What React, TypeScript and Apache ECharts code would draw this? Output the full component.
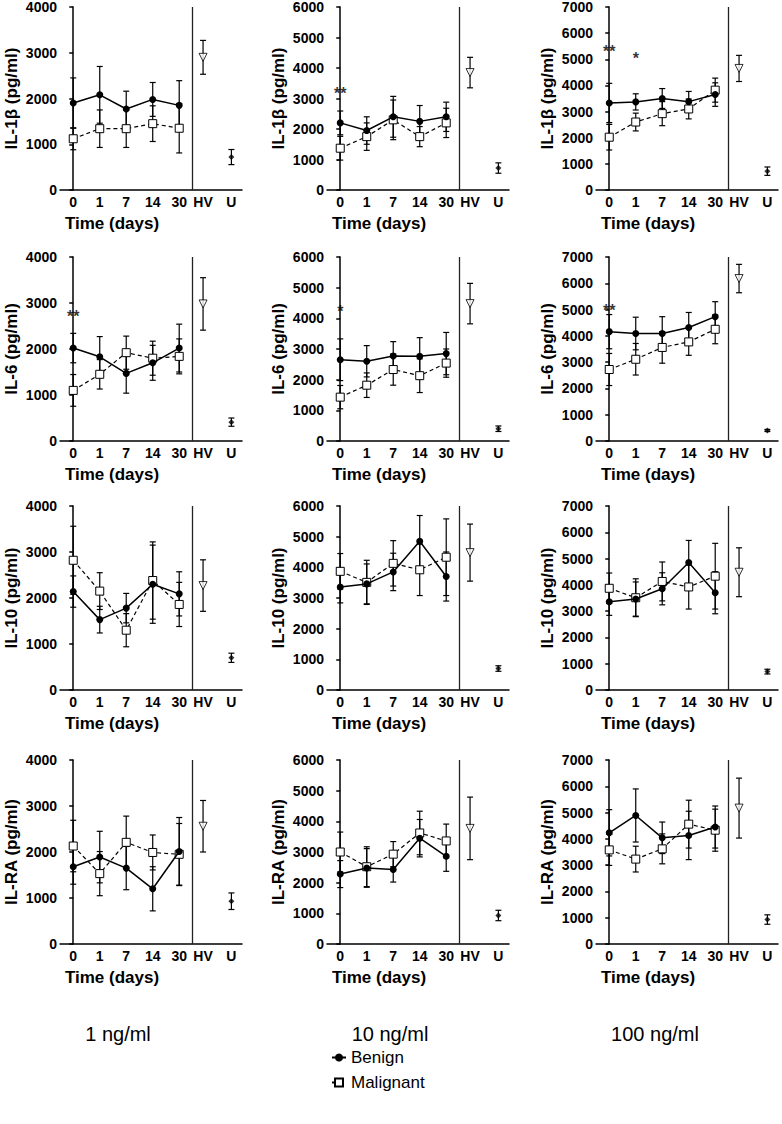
import React, { useEffect, useRef } from "react";
import * as echarts from "echarts";

// ---------- DATA ----------
const dayLabels = ["0", "1", "7", "14", "30"];
const controlLabels = ["HV", "U"];
const cytokines = ["IL-1β", "IL-6", "IL-10", "IL-RA"];
const doses = ["1 ng/ml", "10 ng/ml", "100 ng/ml"];
const yMaxByDose = [4000, 6000, 7000];

// panels in row-major order: (cytokine row) x (dose column)
const benignMean = [
  [1900, 2080, 1770, 1980, 1850],
  [2200, 1950, 2400, 2250, 2400],
  [3330, 3370, 3500, 3380, 3650],
  [2020, 1830, 1470, 1700, 2020],
  [2650, 2600, 2770, 2760, 2850],
  [4160, 4090, 4090, 4320, 4730],
  [2140, 1530, 1780, 2300, 2090],
  [3360, 3460, 3850, 4850, 3700],
  [3360, 3460, 3850, 4850, 3700],
  [1680, 1890, 1650, 1200, 2010],
  [2280, 2480, 2430, 3450, 2860],
  [4230, 4890, 4040, 4130, 4450],
];
const benignErr = [
  [550, 620, 390, 370, 540],
  [390, 450, 670, 520, 480],
  [750, 310, 380, 390, 450],
  [320, 440, 430, 380, 520],
  [680, 510, 470, 610, 690],
  [650, 620, 640, 570, 570],
  [340, 290, 320, 850, 480],
  [520, 650, 610, 840, 800],
  [520, 650, 610, 840, 800],
  [380, 560, 470, 480, 740],
  [440, 630, 410, 610, 490],
  [880, 1010, 600, 920, 800],
];
const malignantMean = [
  [1120, 1340, 1340, 1450, 1350],
  [1370, 1750, 2300, 1750, 2200],
  [2020, 2600, 2920, 3100, 3820],
  [1100, 1450, 1920, 1800, 1840],
  [1430, 1820, 2330, 2130, 2540],
  [2720, 3110, 3560, 3770, 4250],
  [2820, 2150, 1300, 2380, 1860],
  [3870, 3510, 4130, 3920, 4330],
  [3870, 3510, 4130, 3920, 4330],
  [2130, 1530, 2210, 1990, 1950],
  [3000, 2520, 2930, 3620, 3360],
  [3580, 3230, 3620, 4560, 4330],
];
const malignantErr = [
  [240, 410, 410, 390, 540],
  [390, 450, 650, 330, 480],
  [490, 340, 460, 380, 460],
  [345, 320, 360, 370, 380],
  [380, 400, 510, 550, 460],
  [610, 600, 600, 510, 550],
  [740, 400, 360, 840, 480],
  [580, 720, 740, 840, 1250],
  [580, 720, 740, 840, 1250],
  [560, 480, 570, 380, 670],
  [650, 650, 410, 710, 550],
  [590, 490, 570, 910, 800],
];
const hvMean = [2900, 3850, 4650, 2980, 4480, 6180, 2270, 4480, 4480, 2560, 3770, 5170];
const hvErr = [370, 500, 500, 570, 660, 540, 560, 930, 930, 560, 1020, 1140];
const uMean = [720, 720, 720, 410, 400, 400, 700, 700, 700, 930, 930, 930];
const uErr = [165, 170, 160, 90, 90, 40, 100, 90, 90, 180, 170, 180];

const significance = [
  { panel: 1, day: 0, value: 3150, text: "**" },
  { panel: 2, day: 0, value: 5280, text: "**" },
  { panel: 2, day: 1, value: 5030, text: "*" },
  { panel: 3, day: 0, value: 2700, text: "**" },
  { panel: 4, day: 0, value: 4230, text: "*" },
  { panel: 5, day: 0, value: 4980, text: "**" },
];

// ---------- LAYOUT ----------
const colLeft = [60, 327, 596];
const rowTop = [6, 257, 506, 760];
const gridW = 182;
const gridH = 184;
const xMin = -0.5;
const xMax = 6.37;
const dayX = [0, 1, 2, 3, 4];
const hvX = 4.9;
const uX = 5.97;
const sepX = 4.48;
const xSlots = [...dayX, hvX, uX];
const xSlotLabels = [...dayLabels, ...controlLabels];
const FONT = "Arial, 'Liberation Sans', Helvetica, sans-serif";

function errorBarSeries(i: number, name: string, data: number[][], z: number) {
  return {
    type: "custom",
    name,
    xAxisIndex: i,
    yAxisIndex: i,
    z,
    silent: true,
    encode: { x: 0, y: [1, 2] },
    data,
    renderItem: (_p: any, api: any) => {
      const x = api.value(0);
      const lo = api.coord([x, api.value(1)]);
      const hi = api.coord([x, api.value(2)]);
      const w = 3;
      const st = { stroke: "#000", lineWidth: 1.2 };
      return {
        type: "group",
        children: [
          { type: "line", shape: { x1: lo[0], y1: lo[1], x2: hi[0], y2: hi[1] }, style: st },
          { type: "line", shape: { x1: lo[0] - w, y1: lo[1], x2: lo[0] + w, y2: lo[1] }, style: st },
          { type: "line", shape: { x1: hi[0] - w, y1: hi[1], x2: hi[0] + w, y2: hi[1] }, style: st },
        ],
      };
    },
  };
}

function buildOption() {
  const grid: any[] = [];
  const xAxis: any[] = [];
  const yAxis: any[] = [];
  const series: any[] = [];
  const graphic: any[] = [];

  for (let r = 0; r < 4; r++) {
    for (let c = 0; c < 3; c++) {
      const i = r * 3 + c;
      const left = colLeft[c];
      const top = rowTop[r];
      grid.push({ left, top, width: gridW, height: gridH, containLabel: false });
      xAxis.push({
        type: "value",
        gridIndex: i,
        min: xMin,
        max: xMax,
        splitLine: { show: false },
        axisLine: { show: true, onZero: false, lineStyle: { color: "#000", width: 1.5 } },
        axisTick: { show: false },
        axisLabel: {
          customValues: xSlots,
          formatter: (v: number) => {
            const k = xSlots.findIndex((p) => Math.abs(p - v) < 1e-6);
            return k >= 0 ? xSlotLabels[k] : "";
          },
          color: "#000",
          fontWeight: "bold",
          fontSize: 14,
          fontFamily: FONT,
          margin: 5,
        },
      });
      yAxis.push({
        type: "value",
        gridIndex: i,
        min: 0,
        max: yMaxByDose[c],
        interval: 1000,
        splitLine: { show: false },
        axisLine: { show: true, lineStyle: { color: "#000", width: 1.5 } },
        axisTick: { show: true, length: 4, lineStyle: { color: "#000", width: 1.5 } },
        axisLabel: {
          color: "#000",
          fontWeight: "bold",
          fontSize: 14,
          fontFamily: FONT,
          margin: 3,
          formatter: (v: number) => String(v),
        },
        name: cytokines[r] + " (pg/ml)",
        nameLocation: "middle",
        nameGap: 40,
        nameTextStyle: { color: "#000", fontWeight: "bold", fontSize: 17, fontFamily: FONT },
      });

      const bm = benignMean[i];
      const be = benignErr[i];
      const mm = malignantMean[i];
      const me = malignantErr[i];

      series.push(
        errorBarSeries(i, "err-b-" + i, dayX.map((x, k) => [x, bm[k] - be[k], bm[k] + be[k]]), 2)
      );
      series.push(
        errorBarSeries(i, "err-m-" + i, dayX.map((x, k) => [x, mm[k] - me[k], mm[k] + me[k]]), 2)
      );
      series.push(
        errorBarSeries(
          i,
          "err-c-" + i,
          [
            [hvX, hvMean[i] - hvErr[i], hvMean[i] + hvErr[i]],
            [uX, uMean[i] - uErr[i], uMean[i] + uErr[i]],
          ],
          2
        )
      );
      series.push({
        type: "line",
        name: "Malignant",
        xAxisIndex: i,
        yAxisIndex: i,
        z: 3,
        data: dayX.map((x, k) => [x, mm[k]]),
        symbol: "rect",
        symbolSize: 8,
        showSymbol: true,
        lineStyle: { color: "#000", width: 1.2, type: [4, 3] },
        itemStyle: { color: "#fff", borderColor: "#000", borderWidth: 1 },
      });
      series.push({
        type: "line",
        name: "Benign",
        xAxisIndex: i,
        yAxisIndex: i,
        z: 4,
        data: dayX.map((x, k) => [x, bm[k]]),
        symbol: "circle",
        symbolSize: 7,
        showSymbol: true,
        lineStyle: { color: "#000", width: 1.5 },
        itemStyle: { color: "#000", borderColor: "#000", borderWidth: 0 },
      });
      series.push({
        type: "scatter",
        name: "HV-" + i,
        xAxisIndex: i,
        yAxisIndex: i,
        z: 4,
        data: [[hvX, hvMean[i]]],
        symbol: "triangle",
        symbolRotate: 180,
        symbolSize: 8,
        itemStyle: { color: "#fff", borderColor: "#000", borderWidth: 1 },
        markLine: {
          silent: true,
          symbol: ["none", "none"],
          label: { show: false },
          lineStyle: { color: "#222", width: 1.3, type: "solid" },
          data: [{ xAxis: sepX }],
        },
      });
      series.push({
        type: "scatter",
        name: "U-" + i,
        xAxisIndex: i,
        yAxisIndex: i,
        z: 4,
        data: [[uX, uMean[i]]],
        symbol: "diamond",
        symbolSize: 6,
        itemStyle: { color: "#000" },
      });
      const sig = significance.filter((s) => s.panel === i);
      if (sig.length) {
        series.push({
          type: "scatter",
          name: "sig-" + i,
          xAxisIndex: i,
          yAxisIndex: i,
          z: 5,
          symbolSize: 0,
          silent: true,
          itemStyle: { color: "#000" },
          data: sig.map((s) => ({ value: [dayX[s.day], s.value], name: s.text })),
          label: {
            show: true,
            position: "inside",
            formatter: "{b}",
            color: "#000",
            textBorderWidth: 0,
            fontSize: 16,
            fontWeight: "bold",
            fontFamily: FONT,
          },
        });
      }
      graphic.push({
        type: "text",
        x: left + 52,
        y: top + gridH + 33,
        style: {
          text: "Time (days)",
          fill: "#000",
          font: "bold 17px " + FONT,
          align: "center",
          verticalAlign: "middle",
        },
      });
    }
  }

  const doseCenters = [118, 390, 655];
  doses.forEach((d, k) => {
    graphic.push({
      type: "text",
      x: doseCenters[k],
      y: 1034,
      style: { text: d, fill: "#000", font: "20px " + FONT, align: "center", verticalAlign: "middle" },
    });
  });

  return {
    animation: false,
    backgroundColor: "#fff",
    grid,
    xAxis,
    yAxis,
    series,
    graphic,
    legend: {
      data: ["Benign", "Malignant"],
      orient: "vertical",
      left: 326,
      top: 1044,
      itemGap: 8,
      itemWidth: 14,
      itemHeight: 10,
      textStyle: { color: "#000", fontSize: 17, fontFamily: FONT },
    },
  };
}

export default function App() {
  const ref = useRef<HTMLDivElement>(null);
  useEffect(() => {
    if (!ref.current) return;
    const chart = echarts.init(ref.current, undefined, { renderer: "svg" });
    chart.setOption(buildOption() as any);
    return () => chart.dispose();
  }, []);
  return (
    <div
      ref={ref}
      style={{ position: "absolute", left: 0, top: 0, width: 782, height: 1124, background: "#fff" }}
    />
  );
}
